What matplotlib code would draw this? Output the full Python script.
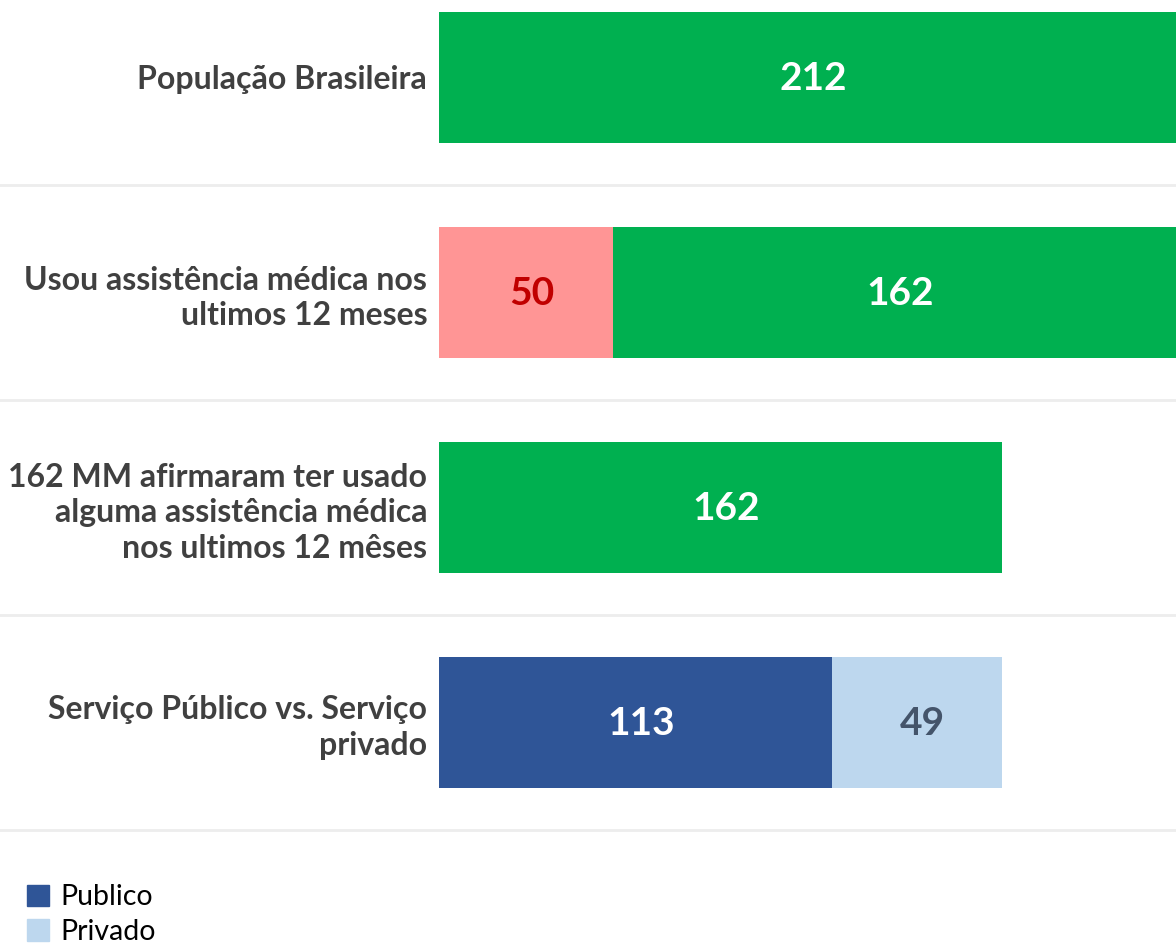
import matplotlib
matplotlib.use("Agg")
import matplotlib.pyplot as plt
from matplotlib.patches import Patch

plt.rcParams['font.family'] = ['Lato', 'DejaVu Sans']

# data
categories = ['População Brasileira',
              'Usou assistência médica nos\nultimos 12 meses',
              '162 MM afirmaram ter usado\nalguma assistência médica\nnos ultimos 12 mêses',
              'Serviço Público vs. Serviço\nprivado']
first_vals = [212, 50, 162, 113]
second_vals = [0, 162, 0, 49]
first_colors = ['#00B050', '#FF9595', '#00B050', '#2F5597']
second_colors = ['#00B050', '#00B050', '#00B050', '#BDD7EE']
first_text = ['white', '#C00000', 'white', 'white']
second_text = ['white', 'white', 'white', '#44546A']
legend_labels = ['Publico', 'Privado']

fig = plt.figure(figsize=(11.76, 9.43), dpi=100)
pitch = 215
top = 77 / pitch
ax_h = (top + 3.5) * pitch
ax = fig.add_axes([439/1176, 1 - ax_h/943, 737/1176, ax_h/943])

ypos = list(range(len(categories)))
bh = 131 / pitch
ax.barh(ypos, first_vals, height=bh, color=first_colors)
ax.barh(ypos, second_vals, left=first_vals, height=bh, color=second_colors)

for i in ypos:
    if first_vals[i] > 0:
        ax.annotate(str(first_vals[i]), (first_vals[i] / 2, i), xytext=(4, -1),
                    textcoords='offset points', ha='center', va='center',
                    fontsize=28, fontweight='bold', color=first_text[i])
    if second_vals[i] > 0:
        ax.annotate(str(second_vals[i]), (first_vals[i] + second_vals[i] / 2, i),
                    xytext=(4, -1), textcoords='offset points', ha='center',
                    va='center', fontsize=28, fontweight='bold', color=second_text[i])

# row separators
for i in ypos:
    ax.axhline(i + 0.5, xmin=-439/737, xmax=1, color='#EDEDED', lw=2, clip_on=False)

ax.set_xlim(0, 212)
ax.set_ylim(3.5, -top)
ax.set_yticks(ypos)
ax.set_yticklabels(categories, fontsize=23, fontweight='bold', color='#404040',
                   ha='right', linespacing=1.28)
ax.tick_params(axis='y', length=0, pad=8.5)
ax.set_xticks([])
for s in ax.spines.values():
    s.set_visible(False)

handles = [Patch(color='#2F5597'), Patch(color='#BDD7EE')]
fig.legend(handles, legend_labels, loc='lower left', bbox_to_anchor=(0.013, -0.014),
           frameon=False, fontsize=20.5, handlelength=0.77, handleheight=0.77,
           handletextpad=0.4, labelspacing=0.3, borderaxespad=0)

fig.savefig('out.png', dpi=100)
